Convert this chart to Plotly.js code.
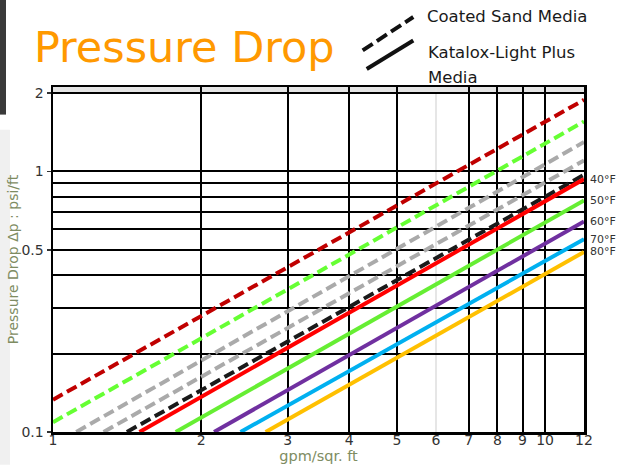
<!DOCTYPE html>
<html>
<head>
<meta charset="utf-8">
<script src="https://cdn.plot.ly/plotly-3.0.1.min.js"></script>
<style>html,body{margin:0;padding:0;background:#fff;}#chart{width:617px;height:465px;}</style>
</head>
<body>
<div id="chart"></div>
<script>
// Flow rate (gpm/sqr. ft) endpoints and pressure drop (psi/ft) endpoints
const sandNames = ['Coated Sand 40°F', 'Coated Sand 50°F', 'Coated Sand 60°F', 'Coated Sand 70°F', 'Coated Sand 80°F'];
const sandX = [[1, 12], [1, 12], [1.115, 12], [1.267, 12], [1.413, 12]];
const sandY = [[0.133, 1.884], [0.109, 1.555], [0.1, 1.297], [0.1, 1.102], [0.1, 0.971]];
const sandColors = ['#c00000', '#66ff33', '#aaaaaa', '#aaaaaa', '#1a1a1a'];

const kataloxNames = ['Katalox 40°F', 'Katalox 50°F', 'Katalox 60°F', 'Katalox 70°F', 'Katalox 80°F'];
const kataloxX = [[1.499, 12], [1.776, 12], [2.125, 12], [2.405, 12], [2.705, 12]];
const kataloxY = [[0.1, 0.935], [0.1, 0.774], [0.1, 0.643], [0.1, 0.55], [0.1, 0.491]];
const kataloxColors = ['#ff0000', '#66ee33', '#7030a0', '#00b0f0', '#ffc000'];
const tempLabels = ['40°F', '50°F', '60°F', '70°F', '80°F'];

const xTickVals = [1, 2, 3, 4, 5, 6, 7, 8, 9, 10, 12];
const xTickText = ['1', '2', '3', '4', '5', '6', '7', '8', '9', '10', '12'];
const xGridMajor = [2, 3, 4, 5, 7, 8, 9, 10];
const xGridLight = [6];
const yTickVals = [0.1, 0.5, 1, 2];
const yTickText = ['0.1', '0.5', '1', '2'];
const yGridMinor = [0.2, 0.3, 0.4, 0.6, 0.7, 0.8, 0.9];
const xMax = 12, yMin = 0.1, yMax = 2.11;

const traces = [];
sandX.forEach((xs, i) => traces.push({
  type: 'scatter', mode: 'lines', name: sandNames[i], x: xs, y: sandY[i], xaxis: 'x', yaxis: 'y',
  line: {color: sandColors[i], width: 4, dash: '11px,5px'}, hoverinfo: 'x+y+name'
}));
kataloxX.forEach((xs, i) => traces.push({
  type: 'scatter', mode: 'lines', name: kataloxNames[i], x: xs, y: kataloxY[i], xaxis: 'x2', yaxis: 'y',
  line: {color: kataloxColors[i], width: 4}, hoverinfo: 'x+y+name'
}));

const axTitleColor = '#7e8c62';

const annotations = tempLabels.map((t, i) => ({
  xref: 'paper', yref: 'y', x: 1.007, y: Math.log10(kataloxY[i][1]),
  text: t, showarrow: false, xanchor: 'left', yanchor: 'middle',
  font: {family: 'DejaVu Sans', size: 11, color: '#333333'}
}));
const legendFont = {family: 'DejaVu Sans', size: 16.5, color: '#1a1a1a'};
annotations.push({xref: 'paper', yref: 'paper', x: 0.701, y: 1.204, text: 'Coated Sand Media',
  showarrow: false, xanchor: 'left', yanchor: 'middle', font: legendFont});
annotations.push({xref: 'paper', yref: 'paper', x: 0.703, y: 1.099, text: 'Katalox-Light Plus',
  showarrow: false, xanchor: 'left', yanchor: 'middle', font: legendFont});
annotations.push({xref: 'paper', yref: 'paper', x: 0.703, y: 1.028, text: 'Media',
  showarrow: false, xanchor: 'left', yanchor: 'middle', font: legendFont});

const shapes = [
  {type: 'line', xref: 'paper', yref: 'paper', x0: 0.5832, y0: 1.106, x1: 0.6785, y1: 1.203,
   line: {color: '#111', width: 4, dash: '12px,5px'}},
  {type: 'line', xref: 'paper', yref: 'paper', x0: 0.5908, y0: 1.052, x1: 0.6785, y1: 1.135,
   line: {color: '#111', width: 4}},
  {type: 'rect', xref: 'paper', yref: 'paper', x0: -0.0998, x1: -0.0885, y0: 0.92, y1: 1.26,
   line: {width: 0}, fillcolor: '#3a3a3a'},
  {type: 'rect', xref: 'paper', yref: 'paper', x0: -0.0998, x1: -0.081, y0: -0.095, y1: 0.876,
   line: {width: 0}, fillcolor: '#f0f0f0'},
  {type: 'rect', xref: 'paper', yref: 'y domain', x0: 0, x1: 1,
   y0: (Math.log10(2) - Math.log10(yMin)) / (Math.log10(yMax) - Math.log10(yMin)), y1: 1,
   line: {width: 0}, fillcolor: '#e4e4e4', layer: 'below'}
];

const layout = {
  width: 617, height: 465,
  margin: {l: 53, r: 33, t: 87, b: 33},
  paper_bgcolor: '#ffffff', plot_bgcolor: '#ffffff',
  showlegend: false,
  title: {text: 'Pressure Drop', x: 0.055, xanchor: 'left', xref: 'container',
          y: 0.899, yanchor: 'middle', yref: 'container',
          font: {family: 'DejaVu Sans', size: 43, color: '#ff9900'}},
  xaxis: {
    type: 'log', range: [0, Math.log10(xMax)], tickmode: 'array', tickvals: xGridMajor,
    showticklabels: false, ticks: '', showgrid: true, gridcolor: '#000000', gridwidth: 2,
    minor: {tickmode: 'array', tickvals: xGridLight, showgrid: true, gridcolor: '#e6e6e6', gridwidth: 1.5, ticks: ''},
    showline: true, linecolor: '#000000', linewidth: 2.5, mirror: true, zeroline: false
  },
  xaxis2: {
    type: 'log', overlaying: 'x', anchor: 'y', side: 'bottom', range: [0, Math.log10(xMax)],
    tickmode: 'array', tickvals: xTickVals, ticktext: xTickText,
    tickfont: {family: 'DejaVu Sans', size: 14, color: '#333333'}, ticklabelstandoff: -2,
    showgrid: false, showline: false, zeroline: false, ticks: '',
    title: {text: 'gpm/sqr. ft', font: {family: 'DejaVu Sans', size: 14.5, color: axTitleColor}, standoff: 0}
  },
  yaxis: {
    type: 'log', range: [Math.log10(yMin), Math.log10(yMax)], tickmode: 'array',
    tickvals: yTickVals, ticktext: yTickText,
    tickfont: {family: 'DejaVu Sans', size: 14, color: '#333333'},
    ticks: 'outside', ticklen: 4, tickcolor: '#333333', tickwidth: 1.5,
    showgrid: true, gridcolor: '#000000', gridwidth: 2,
    minor: {tickmode: 'array', tickvals: yGridMinor, showgrid: true, gridcolor: '#000000', gridwidth: 2, ticks: ''},
    showline: true, linecolor: '#000000', linewidth: 2.5, mirror: true, zeroline: false,
    title: {text: 'Pressure Drop Δp : psi/ft', font: {family: 'DejaVu Sans', size: 14, color: axTitleColor}, standoff: 0}
  },
  annotations: annotations,
  shapes: shapes
};

Plotly.newPlot('chart', traces, layout, {displayModeBar: false, staticPlot: true});
</script>
</body>
</html>
